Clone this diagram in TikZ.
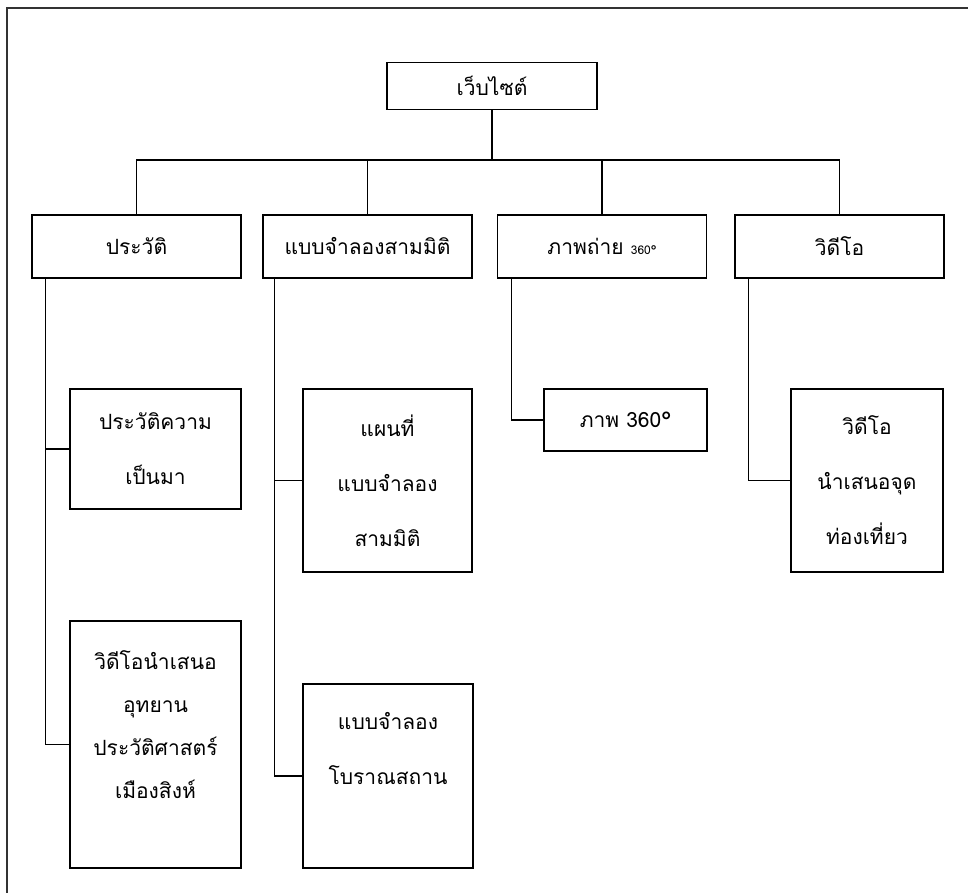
\documentclass[tikz,border=0pt]{standalone}
\usepackage{fontspec}
\newfontfamily\thai[Script=Thai]{Loma}
\usetikzlibrary{positioning}

\begin{document}
\begin{tikzpicture}[x=1pt, y=-1pt]
\tikzset{
  base/.style={draw, line width=1.6pt, align=center, inner sep=0pt,
    font=\thai\fontsize{21}{55}\selectfont},
  head/.style={base, minimum width=209, minimum height=63},
  link/.style={line width=1.4pt},
}
\useasboundingbox (0,0) rectangle (968,893);

% frame
\draw[line width=2pt, black!80] (968,8) -- (7,8) -- (7,893);

% top level
\node [base, minimum width=210, minimum height=47] (web) at (492,86) {เว็บไซต์};

\node [head] (hist) at (136.5,246.5) {ประวัติ};
\node [head] (model) at (367.5,246.5) {แบบจำลองสามมิติ};
\node [head] (photo) at (602,246.5) {ภาพถ่าย {\fontsize{12}{12}\selectfont 360°}};
\node [head] (video) at (839.5,246.5) {วิดีโอ};

% second level
\node [base, minimum width=171, minimum height=120] (hist1) at (155.5,449) {ประวัติความ\\เป็นมา};
\node [base, minimum width=171, minimum height=247, text depth=40pt,
  font=\thai\fontsize{21}{43}\selectfont] (hist2) at (155.5,744.5)
  {วิดีโอนำเสนอ\\อุทยาน\\ประวัติศาสตร์\\เมืองสิงห์};

\node [base, minimum width=169, minimum height=183] (model1) at (387.5,480.5) {แผนที่\\แบบจำลอง\\สามมิติ};
\node [base, minimum width=170, minimum height=184, text depth=56pt] (model2) at (388,776) {แบบจำลอง\\โบราณสถาน};

\node [base, minimum width=163, minimum height=62] (photo1) at (625.5,420) {ภาพ 360°};

\node [base, minimum width=152, minimum height=183] (video1) at (867,480.5) {วิดีโอ\\นำเสนอจุด\\ท่องเที่ยว};

% connectors
\coordinate (bus) at (492,160);
\draw[link] (web.south) -- (bus);
\draw[link] (hist.north) |- (bus) -| (video.north);
\draw[link] (model.north) -- (model.north |- bus);
\draw[link] (photo.north) -- (photo.north |- bus);

\coordinate (histT) at ([xshift=14pt]hist.south west);
\coordinate (modelT) at ([xshift=12pt]model.south west);
\coordinate (photoT) at ([xshift=15pt]photo.south west);
\coordinate (videoT) at ([xshift=14pt]video.south west);

\draw[link] (histT) |- (hist1.west);
\draw[link] (histT) |- (hist2.west);
\draw[link] (modelT) |- (model1.west);
\draw[link] (modelT) |- (model2.west);
\draw[link] (photoT) |- (photo1.west);
\draw[link] (videoT) |- (video1.west);
\end{tikzpicture}
\end{document}
